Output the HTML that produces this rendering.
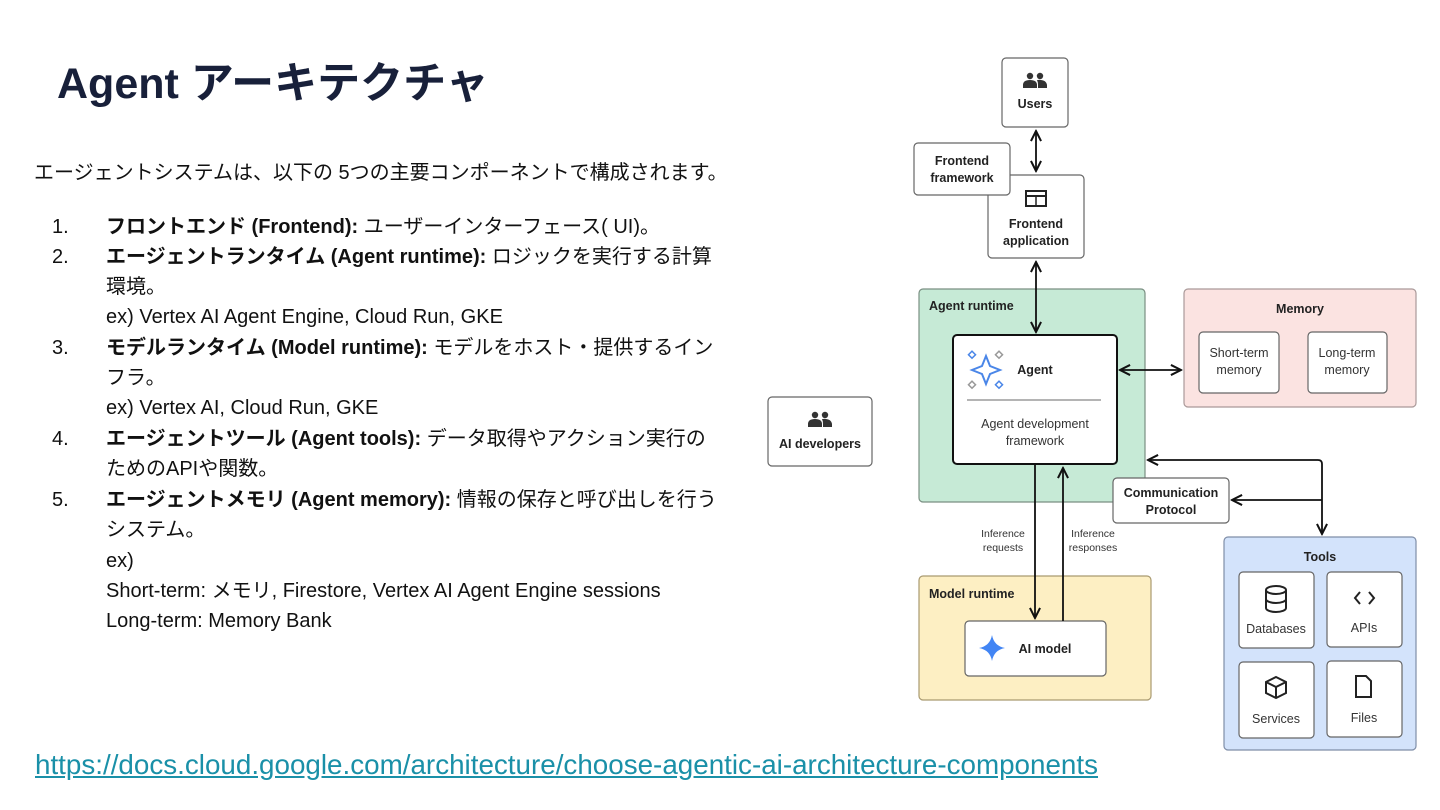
<!DOCTYPE html>
<html><head><meta charset="utf-8"><style>
body{margin:0;width:1440px;height:810px;background:#fff;overflow:hidden;position:relative;font-family:"Liberation Sans","Noto Sans CJK JP",sans-serif}
.t{position:absolute;white-space:nowrap;font-size:20px;color:#111;line-height:24px}
.n{position:absolute;left:52px;font-size:20px;color:#111;line-height:24px}
b{font-weight:bold}
</style></head><body>
<div style="position:absolute;left:57px;top:56px;font-size:43px;font-weight:bold;color:#18203a;white-space:nowrap;line-height:56px">Agent アーキテクチャ</div>
<div class="t" style="left:34px;top:161px">エージェントシステムは、以下の 5つの主要コンポーネントで構成されます。</div>
<div class="n" style="top:215px">1.</div><div class="t" style="left:106px;top:215px"><b>フロントエンド (Frontend):</b> ユーザーインターフェース( UI)。</div>
<div class="n" style="top:245px">2.</div><div class="t" style="left:106px;top:245px"><b>エージェントランタイム (Agent runtime):</b> ロジックを実行する計算</div>
<div class="t" style="left:106px;top:275px">環境。</div>
<div class="t" style="left:106px;top:305px">ex) Vertex AI Agent Engine, Cloud Run, GKE</div>
<div class="n" style="top:336px">3.</div><div class="t" style="left:106px;top:336px"><b>モデルランタイム (Model runtime):</b> モデルをホスト・提供するイン</div>
<div class="t" style="left:106px;top:366px">フラ。</div>
<div class="t" style="left:106px;top:396px">ex) Vertex AI, Cloud Run, GKE</div>
<div class="n" style="top:427px">4.</div><div class="t" style="left:106px;top:427px"><b>エージェントツール (Agent tools):</b> データ取得やアクション実行の</div>
<div class="t" style="left:106px;top:457px">ためのAPIや関数。</div>
<div class="n" style="top:488px">5.</div><div class="t" style="left:106px;top:488px"><b>エージェントメモリ (Agent memory):</b> 情報の保存と呼び出しを行う</div>
<div class="t" style="left:106px;top:518px">システム。</div>
<div class="t" style="left:106px;top:549px">ex)</div>
<div class="t" style="left:106px;top:579px">Short-term: メモリ, Firestore, Vertex AI Agent Engine sessions</div>
<div class="t" style="left:106px;top:609px">Long-term: Memory Bank</div>
<div style="position:absolute;left:35px;top:748px;font-size:27.8px;color:#1a90a8;text-decoration:underline;white-space:nowrap;line-height:34px">https://docs.cloud.google.com/architecture/choose-agentic-ai-architecture-components</div>

<svg style="position:absolute;left:0;top:0" width="1440" height="810" font-family="Liberation Sans, sans-serif">
<defs><marker id="a" viewBox="0 0 10 10" refX="9" refY="5" markerWidth="7" markerHeight="7" orient="auto-start-reverse"><path d="M1,1 L9,5 L1,9" fill="none" stroke="#111" stroke-width="1.6"/></marker></defs>
<g stroke="#666" stroke-width="1.2" fill="#fff">
<rect x="1002" y="58" width="66" height="69" rx="4"/>
<rect x="988" y="175" width="96" height="83" rx="4"/>
<rect x="914" y="143" width="96" height="52" rx="4"/>
<rect x="919" y="289" width="226" height="213" rx="4" fill="#c6ead6" stroke="#7a8f82"/>
<rect x="1184" y="289" width="232" height="118" rx="4" fill="#fbe3e1" stroke="#a99"/>
<rect x="1199" y="332" width="80" height="61" rx="4"/>
<rect x="1308" y="332" width="79" height="61" rx="4"/>
<rect x="768" y="397" width="104" height="69" rx="4"/>
<rect x="919" y="576" width="232" height="124" rx="4" fill="#fdefc3" stroke="#a99a70"/>
<rect x="965" y="621" width="141" height="55" rx="4"/>
<rect x="1224" y="537" width="192" height="213" rx="4" fill="#d3e3fb" stroke="#7f8ea8"/>
<rect x="1239" y="572" width="75" height="76" rx="4"/>
<rect x="1327" y="572" width="75" height="75" rx="4"/>
<rect x="1239" y="662" width="75" height="76" rx="4"/>
<rect x="1327" y="661" width="75" height="76" rx="4"/>
<rect x="953" y="335" width="164" height="129" rx="4" stroke="#111" stroke-width="2"/>
<rect x="1113" y="478" width="116" height="45" rx="4"/>
</g>
<line x1="967" y1="400" x2="1101" y2="400" stroke="#888" stroke-width="1.2"/>
<g stroke="#111" stroke-width="1.8" fill="none">
<line x1="1036" y1="131" x2="1036" y2="171" marker-start="url(#a)" marker-end="url(#a)"/>
<line x1="1036" y1="262" x2="1036" y2="332" marker-start="url(#a)" marker-end="url(#a)"/>
<line x1="1120" y1="370" x2="1181" y2="370" marker-start="url(#a)" marker-end="url(#a)"/>
<path d="M1148,460 H1318 Q1322,460 1322,464 V534" marker-start="url(#a)" marker-end="url(#a)"/>
<line x1="1322" y1="500" x2="1232" y2="500" marker-end="url(#a)"/>
<line x1="1035" y1="464" x2="1035" y2="618" marker-end="url(#a)"/>
<line x1="1063" y1="621" x2="1063" y2="468" marker-end="url(#a)"/>
</g>
<g font-size="12.5" font-weight="bold" fill="#222" text-anchor="middle">
<text x="1035" y="108">Users</text>
<text x="962" y="165">Frontend</text><text x="962" y="182">framework</text>
<text x="1036" y="228">Frontend</text><text x="1036" y="245">application</text>
<text x="1300" y="313">Memory</text>
<text x="1035" y="374">Agent</text>
<text x="820" y="448">AI developers</text>
<text x="1171" y="497">Communication</text><text x="1171" y="514">Protocol</text>
<text x="1045" y="653">AI model</text>
<text x="1320" y="561">Tools</text>
</g>
<text x="929" y="310" font-size="12.5" font-weight="bold" fill="#222">Agent runtime</text>
<text x="929" y="598" font-size="12.5" font-weight="bold" fill="#222">Model runtime</text>
<g font-size="12.5" fill="#333" text-anchor="middle">
<text x="1239" y="357">Short-term</text><text x="1239" y="374">memory</text>
<text x="1347" y="357">Long-term</text><text x="1347" y="374">memory</text>
<text x="1035" y="428">Agent development</text><text x="1035" y="445">framework</text>
<text x="1276" y="633">Databases</text><text x="1364" y="632">APIs</text>
<text x="1276" y="723">Services</text><text x="1364" y="722">Files</text>
</g>
<g font-size="10.5" fill="#333" text-anchor="middle">
<text x="1003" y="537">Inference</text><text x="1003" y="551">requests</text>
<text x="1093" y="537">Inference</text><text x="1093" y="551">responses</text>
</g>
<g fill="#333">
<circle cx="1030" cy="76" r="3.2"/><circle cx="1040" cy="76" r="3.2"/><path d="M1023,88 v-3 q0,-5 7,-5 q7,0 7,5 v3 z M1038,88 v-3 q0,-3 -1,-5 q9,-1 10,5 v3 z"/>
<circle cx="815" cy="415" r="3.2"/><circle cx="825" cy="415" r="3.2"/><path d="M808,427 v-3 q0,-5 7,-5 q7,0 7,5 v3 z M823,427 v-3 q0,-3 -1,-5 q9,-1 10,5 v3 z"/>
</g>
<rect x="1026" y="191" width="20" height="15" fill="none" stroke="#222" stroke-width="2"/><line x1="1026" y1="196" x2="1046" y2="196" stroke="#222" stroke-width="2"/><line x1="1036" y1="196" x2="1036" y2="206" stroke="#222" stroke-width="1.5"/>
<path d="M986,356 L990,366 L1000,370 L990,374 L986,384 L982,374 L972,370 L982,366 Z" fill="none" stroke="#4a86e8" stroke-width="2"/>
<rect x="970" y="352" width="5" height="5" transform="rotate(45 972 354)" fill="none" stroke="#4a86e8" stroke-width="1.5"/>
<rect x="997" y="352" width="5" height="5" transform="rotate(45 999 354)" fill="none" stroke="#999" stroke-width="1.5"/>
<rect x="970" y="382" width="5" height="5" transform="rotate(45 972 384)" fill="none" stroke="#999" stroke-width="1.5"/>
<rect x="997" y="382" width="5" height="5" transform="rotate(45 999 384)" fill="none" stroke="#4a86e8" stroke-width="1.5"/>
<path d="M992,635 Q994,646 1005,648 Q994,650 992,661 Q990,650 979,648 Q990,646 992,635 Z" fill="#4285f4"/>
<g fill="none" stroke="#222" stroke-width="2">
<ellipse cx="1276" cy="590" rx="10" ry="4"/><path d="M1266,590 v18 a10,4 0 0 0 20,0 v-18 M1266,599 a10,4 0 0 0 20,0"/>
<path d="M1360,592 l-5,6 5,6 M1369,592 l5,6 -5,6"/>
<path d="M1276,677 l10,5 v11 l-10,5 -10,-5 v-11 z M1266,682 l10,5 10,-5 M1276,687 v11"/>
<path d="M1356,676 h10 l5,5 v16 h-15 z"/>
</g>
</svg>
</body></html>
